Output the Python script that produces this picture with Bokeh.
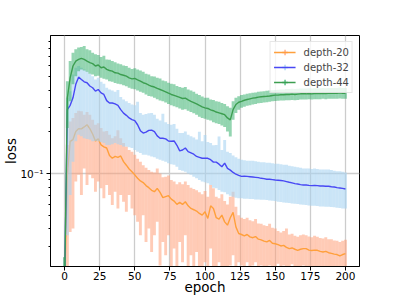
from bokeh.plotting import figure
from bokeh.models import (Range1d, FixedTicker, CustomJSTickFormatter, ColumnDataSource,
                          Legend, LegendItem)
from bokeh.embed import file_html
from bokeh.resources import INLINE

# ---------------- data ----------------
epochs = list(range(0, 201, 2))
x_ticks = [0, 25, 50, 75, 100, 125, 150, 175, 200]
y_major = [0.1]
y_minor = [0.03, 0.04, 0.05, 0.06, 0.07, 0.08, 0.09, 0.2, 0.3, 0.4, 0.5, 0.6, 0.7, 0.8, 0.9]
labels = ["depth-20", "depth-32", "depth-44"]

o_mean = [0.015, 0.098, 0.171, 0.176, 0.201, 0.211, 0.210, 0.217, 0.225, 0.211,
          0.193, 0.172, 0.178, 0.161, 0.156, 0.153, 0.135, 0.129, 0.133, 0.131,
          0.134, 0.122, 0.115, 0.108, 0.103, 0.098, 0.0925, 0.0886, 0.0862, 0.082,
          0.0792, 0.0758, 0.0741, 0.0783, 0.0733, 0.0671, 0.0682, 0.0693, 0.0655, 0.0634,
          0.0600, 0.0620, 0.0600, 0.0627, 0.0586, 0.0561, 0.0549, 0.0537, 0.0516, 0.0502,
          0.0531, 0.0475, 0.0586, 0.0561, 0.0481, 0.0470, 0.0502, 0.0449, 0.0425, 0.0481,
          0.0526, 0.0413, 0.0370, 0.0364, 0.0356, 0.0364, 0.0350, 0.0345, 0.0352, 0.0337,
          0.0333, 0.0326, 0.0322, 0.0330, 0.0315, 0.0312, 0.0308, 0.0301, 0.0304, 0.0294,
          0.0288, 0.0291, 0.0285, 0.0280, 0.0285, 0.0288, 0.0288, 0.0281, 0.0279, 0.0281,
          0.0280, 0.0275, 0.0272, 0.0275, 0.0269, 0.0266, 0.0263, 0.0261, 0.0255, 0.0261,
          0.0265]
o_hi = [0.025, 0.161, 0.238, 0.252, 0.273, 0.284, 0.281, 0.266, 0.278, 0.266,
        0.245, 0.225, 0.231, 0.213, 0.201, 0.203, 0.191, 0.180, 0.186, 0.205,
        0.180, 0.166, 0.157, 0.148, 0.144, 0.137, 0.128, 0.122, 0.115, 0.110,
        0.106, 0.103, 0.102, 0.109, 0.100, 0.094, 0.095, 0.097, 0.090, 0.0876,
        0.0838, 0.0866, 0.0838, 0.0876, 0.0828, 0.0792, 0.0775, 0.0758, 0.0733, 0.0709,
        0.0750, 0.0682, 0.0828, 0.0783, 0.0682, 0.0663, 0.0709, 0.0634, 0.0600, 0.0682,
        0.0741, 0.0577, 0.0502, 0.0481, 0.0470, 0.0481, 0.0462, 0.0454, 0.0470, 0.0437,
        0.0435, 0.0425, 0.0420, 0.0435, 0.0407, 0.0402, 0.0385, 0.0376, 0.0385, 0.0402,
        0.0364, 0.0368, 0.0356, 0.0350, 0.0360, 0.0364, 0.0360, 0.0352, 0.0348, 0.0356,
        0.0350, 0.0343, 0.0340, 0.0348, 0.0336, 0.0336, 0.0330, 0.0328, 0.0322, 0.0328,
        0.0333]
o_lo = [0.006, 0.012, 0.038, 0.0402, 0.0876, 0.098, 0.0701, 0.109, 0.0828, 0.098,
        0.0925, 0.0741, 0.0876, 0.0783, 0.0663, 0.0828, 0.0701, 0.0593, 0.0741, 0.0561,
        0.0701, 0.0627, 0.0531, 0.0701, 0.0561, 0.0502, 0.0449, 0.0360, 0.0502, 0.0322,
        0.0402, 0.0272, 0.0360, 0.0449, 0.0218, 0.0322, 0.0258, 0.0360, 0.018, 0.0288,
        0.016, 0.0322, 0.0230, 0.0360, 0.015, 0.0258, 0.017, 0.0272, 0.016, 0.014,
        0.0230, 0.015, 0.0288, 0.017, 0.014, 0.0230, 0.016, 0.015, 0.013, 0.0218,
        0.0258, 0.016, 0.0230, 0.0218, 0.018, 0.0230, 0.019, 0.0218, 0.0230, 0.019,
        0.0218, 0.020, 0.0208, 0.0218, 0.019, 0.019, 0.0224, 0.020, 0.0218, 0.0213,
        0.020, 0.0222, 0.020, 0.019, 0.0216, 0.0218, 0.0213, 0.020, 0.019, 0.0211,
        0.020, 0.019, 0.020, 0.019, 0.018, 0.019, 0.020, 0.019, 0.018, 0.019,
        0.019]

b_mean = [0.015, 0.289, 0.311, 0.352, 0.440, 0.496, 0.477, 0.459, 0.452, 0.428,
          0.416, 0.393, 0.404, 0.382, 0.372, 0.336, 0.323, 0.323, 0.318, 0.311,
          0.289, 0.273, 0.263, 0.252, 0.245, 0.241, 0.225, 0.204, 0.196, 0.199,
          0.205, 0.206, 0.201, 0.187, 0.180, 0.180, 0.178, 0.172, 0.171, 0.172,
          0.160, 0.146, 0.148, 0.153, 0.144, 0.141, 0.138, 0.133, 0.131, 0.129,
          0.129, 0.129, 0.126, 0.121, 0.121, 0.117, 0.112, 0.119, 0.109, 0.106,
          0.102, 0.099, 0.097, 0.0955, 0.0960, 0.0955, 0.0950, 0.0945, 0.0940, 0.0935,
          0.0925, 0.0920, 0.0910, 0.0910, 0.0905, 0.0900, 0.0896, 0.0891, 0.0886, 0.0876,
          0.0866, 0.0857, 0.0847, 0.0842, 0.0833, 0.0828, 0.0828, 0.0823, 0.0819, 0.0823,
          0.0819, 0.0814, 0.0814, 0.0810, 0.0810, 0.0805, 0.0801, 0.0792, 0.0788, 0.0783,
          0.0775]
b_hi = [0.025, 0.352, 0.393, 0.518, 0.580, 0.597, 0.580, 0.564, 0.548, 0.524,
        0.504, 0.477, 0.490, 0.459, 0.445, 0.416, 0.404, 0.397, 0.389, 0.400,
        0.356, 0.342, 0.332, 0.323, 0.315, 0.311, 0.330, 0.273, 0.266, 0.269,
        0.272, 0.273, 0.266, 0.249, 0.241, 0.270, 0.235, 0.228, 0.225, 0.228,
        0.211, 0.196, 0.196, 0.201, 0.191, 0.186, 0.182, 0.176, 0.200, 0.171,
        0.190, 0.169, 0.166, 0.160, 0.161, 0.185, 0.148, 0.175, 0.144, 0.141,
        0.135, 0.131, 0.128, 0.126, 0.125, 0.124, 0.124, 0.124, 0.123, 0.122,
        0.121, 0.121, 0.120, 0.120, 0.119, 0.118, 0.118, 0.117, 0.116, 0.116,
        0.114, 0.113, 0.112, 0.111, 0.110, 0.109, 0.109, 0.109, 0.108, 0.109,
        0.108, 0.107, 0.107, 0.107, 0.107, 0.106, 0.105, 0.104, 0.104, 0.103,
        0.102]
b_lo = [0.006, 0.036, 0.070, 0.122, 0.171, 0.191, 0.186, 0.180, 0.178, 0.176,
        0.171, 0.172, 0.171, 0.169, 0.166, 0.161, 0.161, 0.163, 0.166, 0.163,
        0.161, 0.157, 0.157, 0.155, 0.153, 0.148, 0.144, 0.141, 0.137, 0.137,
        0.135, 0.133, 0.131, 0.128, 0.126, 0.124, 0.122, 0.119, 0.117, 0.116,
        0.112, 0.106, 0.105, 0.103, 0.100, 0.098, 0.095, 0.0925, 0.090, 0.0876,
        0.0866, 0.0852, 0.0828, 0.0792, 0.0783, 0.0762, 0.0741, 0.0733, 0.0709, 0.0693,
        0.0682, 0.0671, 0.0663, 0.0663, 0.0659, 0.0659, 0.0655, 0.0655, 0.0652, 0.0652,
        0.0648, 0.0648, 0.0645, 0.0641, 0.0638, 0.0634, 0.0627, 0.0623, 0.0620, 0.0616,
        0.0613, 0.0610, 0.0606, 0.0603, 0.0600, 0.0597, 0.0593, 0.0590, 0.0586, 0.0586,
        0.0583, 0.0580, 0.0580, 0.0577, 0.0577, 0.0574, 0.0571, 0.0567, 0.0564, 0.0561,
        0.0561]

g_mean = [0.015, 0.352, 0.490, 0.597, 0.648, 0.666, 0.677, 0.666, 0.648, 0.631,
          0.621, 0.597, 0.607, 0.580, 0.587, 0.564, 0.554, 0.548, 0.533, 0.530,
          0.518, 0.512, 0.504, 0.490, 0.482, 0.485, 0.474, 0.464, 0.452, 0.445,
          0.435, 0.426, 0.421, 0.411, 0.404, 0.397, 0.389, 0.380, 0.372, 0.366,
          0.360, 0.354, 0.348, 0.350, 0.340, 0.332, 0.325, 0.318, 0.310, 0.303,
          0.298, 0.295, 0.288, 0.284, 0.278, 0.274, 0.270, 0.266, 0.252, 0.244,
          0.289, 0.315, 0.327, 0.332, 0.338, 0.342, 0.346, 0.350, 0.352, 0.356,
          0.358, 0.360, 0.361, 0.363, 0.366, 0.368, 0.368, 0.370, 0.370, 0.372,
          0.372, 0.374, 0.372, 0.374, 0.376, 0.376, 0.376, 0.378, 0.376, 0.378,
          0.378, 0.378, 0.380, 0.378, 0.380, 0.380, 0.380, 0.380, 0.382, 0.380,
          0.380]
g_hi = [0.025, 0.464, 0.648, 0.745, 0.788, 0.810, 0.819, 0.833, 0.788, 0.775,
        0.745, 0.724, 0.716, 0.693, 0.708, 0.666, 0.663, 0.648, 0.634, 0.621,
        0.614, 0.601, 0.597, 0.580, 0.567, 0.574, 0.564, 0.554, 0.542, 0.524,
        0.518, 0.504, 0.501, 0.490, 0.485, 0.469, 0.464, 0.452, 0.445, 0.440,
        0.428, 0.421, 0.416, 0.421, 0.404, 0.397, 0.389, 0.376, 0.368, 0.360,
        0.352, 0.352, 0.342, 0.340, 0.332, 0.329, 0.323, 0.318, 0.306, 0.298,
        0.332, 0.352, 0.361, 0.368, 0.372, 0.376, 0.380, 0.382, 0.384, 0.389,
        0.391, 0.393, 0.395, 0.397, 0.399, 0.401, 0.402, 0.404, 0.404, 0.407,
        0.407, 0.409, 0.407, 0.409, 0.411, 0.411, 0.411, 0.413, 0.411, 0.413,
        0.413, 0.413, 0.415, 0.413, 0.415, 0.415, 0.415, 0.415, 0.418, 0.415,
        0.415]
g_lo = [0.008, 0.213, 0.332, 0.440, 0.504, 0.548, 0.564, 0.554, 0.542, 0.524,
        0.518, 0.504, 0.507, 0.490, 0.482, 0.477, 0.464, 0.459, 0.450, 0.445,
        0.440, 0.433, 0.426, 0.416, 0.409, 0.406, 0.397, 0.389, 0.382, 0.372,
        0.363, 0.360, 0.352, 0.344, 0.336, 0.332, 0.325, 0.318, 0.311, 0.306,
        0.301, 0.295, 0.289, 0.291, 0.284, 0.278, 0.272, 0.266, 0.257, 0.252,
        0.249, 0.245, 0.241, 0.235, 0.231, 0.228, 0.222, 0.217, 0.201, 0.185,
        0.245, 0.274, 0.289, 0.298, 0.304, 0.308, 0.311, 0.315, 0.318, 0.321,
        0.323, 0.325, 0.327, 0.329, 0.332, 0.334, 0.335, 0.337, 0.337, 0.338,
        0.338, 0.340, 0.338, 0.340, 0.342, 0.342, 0.342, 0.344, 0.342, 0.344,
        0.344, 0.344, 0.346, 0.344, 0.346, 0.346, 0.346, 0.346, 0.348, 0.346,
        0.346]

# ---------------- styles ----------------
series = [
    (labels[0], o_mean, o_lo, o_hi, "#ffa03c", "#ffa07a", 0.55),
    (labels[1], b_mean, b_lo, b_hi, "#4848f4", "#a8d4f2", 0.60),
    (labels[2], g_mean, g_lo, g_hi, "#3c9e50", "#3cb371", 0.55),
]
FONT = "DejaVu Sans"

p = figure(width=399, height=299, y_axis_type="log",
           x_range=Range1d(-10, 210), y_range=Range1d(0.0214, 0.99),
           output_backend="svg", toolbar_location=None,
           min_border_left=50, min_border_right=40, min_border_top=35, min_border_bottom=33)

p.background_fill_color = "white"
p.outline_line_color = "black"
p.outline_line_width = 1

p.xaxis.ticker = FixedTicker(ticks=x_ticks)
p.yaxis.ticker = FixedTicker(ticks=y_major, minor_ticks=y_minor)
p.yaxis.formatter = CustomJSTickFormatter(code="return tick == 0.1 ? '10\u207b\u00b9' : ''")

for ax in (p.xaxis[0], p.yaxis[0]):
    ax.axis_line_color = "black"
    ax.major_tick_line_color = "black"
    ax.major_tick_in = 0
    ax.major_tick_out = 4
    ax.major_label_text_font = FONT
    ax.major_label_text_font_size = "10.5px"
    ax.major_label_text_color = "black"
    ax.axis_label_text_font = FONT
    ax.axis_label_text_font_size = "13.5px"
    ax.axis_label_text_font_style = "normal"
    ax.axis_label_text_color = "black"

p.xaxis.minor_tick_line_color = None
p.xaxis.major_label_standoff = 1
p.xaxis.axis_label = "epoch"
p.xaxis.axis_label_standoff = -4
p.yaxis.minor_tick_line_color = "black"
p.yaxis.minor_tick_in = 0
p.yaxis.minor_tick_out = 2
p.yaxis.major_label_standoff = 3
p.yaxis.axis_label = "loss"
p.yaxis.axis_label_standoff = -2

p.xgrid.grid_line_color = "#cccccc"
p.xgrid.grid_line_width = 1.3
p.ygrid.grid_line_color = "#cccccc"
p.ygrid.grid_line_width = 1.3

items = []
for name, mean, lo, hi, lc, ec, ea in series:
    src = ColumnDataSource(dict(x=epochs, mean=mean, lo=lo, hi=hi))
    p.segment(x0="x", y0="lo", x1="x", y1="hi", source=src,
              line_color=ec, line_alpha=ea, line_width=2.9)
    ln = p.line(x="x", y="mean", source=src, line_color=lc, line_width=1.4)
    # legend handle marker (placed at the first point, which is below the visible range)
    mk = p.scatter(x=[epochs[0]], y=[mean[0]], marker="cross", size=1,
                   line_color=ec, line_alpha=min(1.0, ea + 0.3), line_width=1.5)
    items.append(LegendItem(label=name, renderers=[mk, ln]))

legend = Legend(items=items, location="top_right", margin=6, padding=3,
                spacing=1, glyph_width=22, glyph_height=14, label_standoff=8,
                label_text_font=FONT, label_text_font_size="10px",
                border_line_color="#d0d0d0", border_line_width=1,
                background_fill_color="white", background_fill_alpha=0.8)
p.add_layout(legend)

open("out.html", "w").write(file_html(p, INLINE))
